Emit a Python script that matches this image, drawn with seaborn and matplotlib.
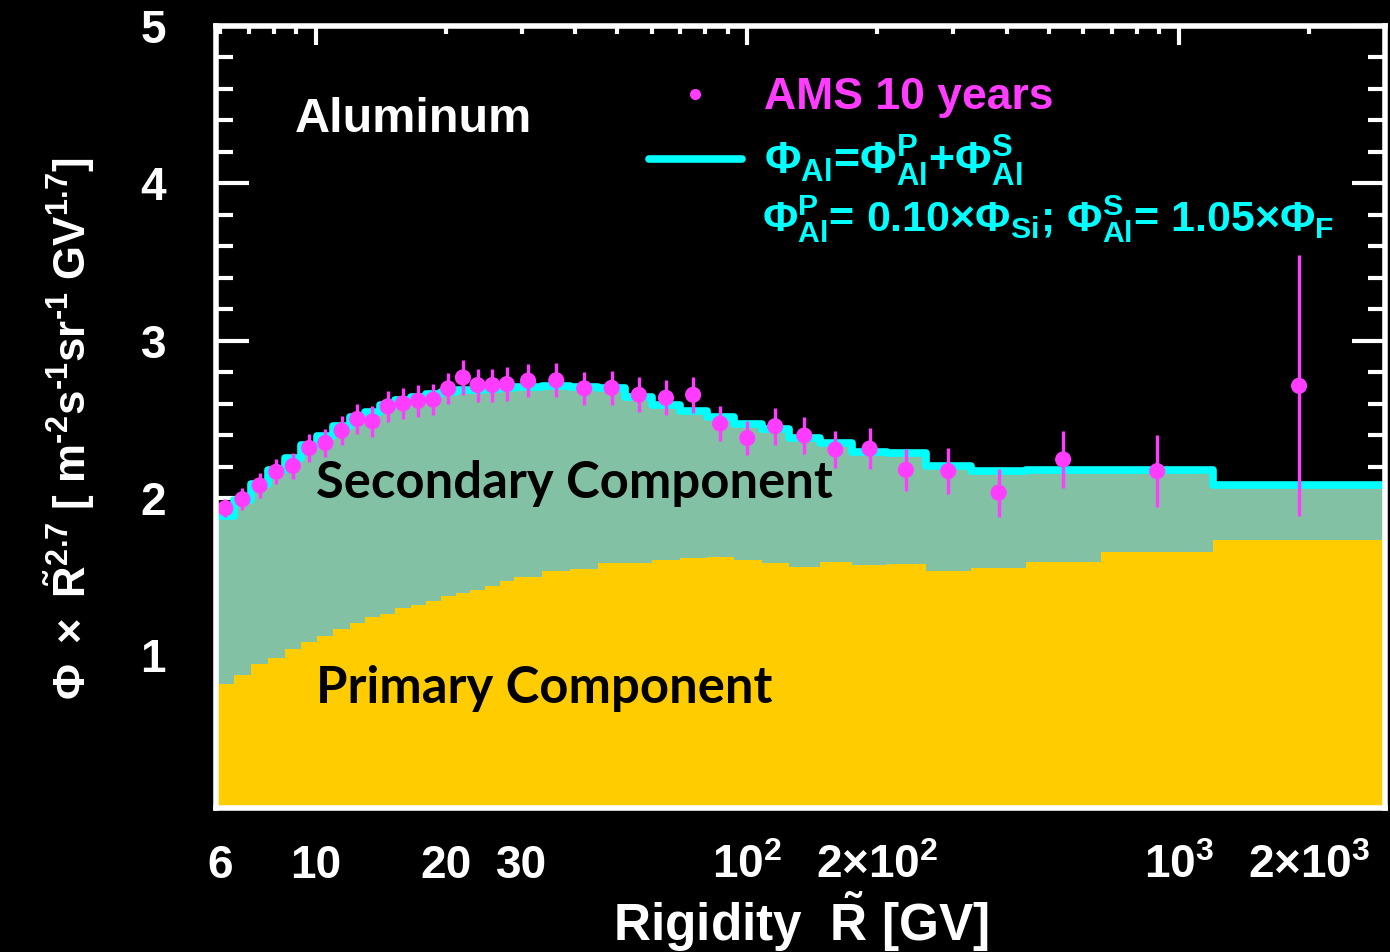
import numpy as np
import matplotlib
matplotlib.use("Agg")
import matplotlib.pyplot as plt
import seaborn as sns
from matplotlib.lines import Line2D
from matplotlib.ticker import FixedLocator, FuncFormatter, LogLocator, MultipleLocator

# Rigidity bin edges [GV]
bin_edges = [5.90, 6.47, 7.09, 7.76, 8.48, 9.26, 10.1, 11.0, 12.0, 13.0,
             14.1, 15.3, 16.6, 18.0, 19.5, 21.1, 22.8, 24.7, 26.7, 28.8,
             33.5, 38.9, 45.1, 52.2, 60.3, 69.7, 80.5, 93.0, 108, 125,
             147, 175, 211, 259, 330, 441, 660, 1200, 3000]

# Model: total Al flux and its primary part (flux x R^2.7)
total_flux = [1.886, 1.99, 2.087, 2.175, 2.255, 2.335, 2.395, 2.46, 2.515, 2.546,
              2.593, 2.62, 2.639, 2.663, 2.673, 2.684, 2.688, 2.693, 2.698, 2.705,
              2.712, 2.703, 2.698, 2.639, 2.59, 2.555, 2.515, 2.472, 2.44, 2.382,
              2.352, 2.292, 2.284, 2.205, 2.172, 2.179, 2.177, 2.08]
primary_flux = [0.82, 0.878, 0.943, 0.983, 1.038, 1.084, 1.125, 1.165, 1.203, 1.241,
                1.264, 1.30, 1.323, 1.348, 1.375, 1.394, 1.418, 1.439, 1.473, 1.496,
                1.533, 1.546, 1.59, 1.589, 1.608, 1.616, 1.623, 1.606, 1.587, 1.563,
                1.593, 1.574, 1.582, 1.534, 1.555, 1.595, 1.658, 1.73]

# AMS measurement
ams_rigidity = [6.18, 6.77, 7.42, 8.11, 8.86, 9.67, 10.54, 11.49, 12.49, 13.54,
                14.69, 15.94, 17.29, 18.74, 20.28, 21.94, 23.73, 25.68, 27.73, 31.06,
                36.1, 41.9, 48.5, 56.1, 64.8, 74.9, 86.5, 100, 116, 135.5,
                160, 192, 233, 292, 382, 539, 890, 1897]
ams_flux = [1.935, 1.992, 2.08, 2.167, 2.204, 2.318, 2.35, 2.428, 2.502, 2.487,
            2.582, 2.601, 2.618, 2.625, 2.696, 2.766, 2.718, 2.718, 2.724, 2.746,
            2.748, 2.697, 2.70, 2.656, 2.637, 2.656, 2.473, 2.381, 2.456, 2.397,
            2.308, 2.314, 2.179, 2.171, 2.034, 2.245, 2.171, 2.713]
ams_error = [0.058, 0.07, 0.078, 0.08, 0.082, 0.088, 0.087, 0.092, 0.095, 0.098,
             0.099, 0.10, 0.10, 0.10, 0.10, 0.11, 0.105, 0.105, 0.107, 0.107,
             0.107, 0.105, 0.108, 0.11, 0.11, 0.113, 0.11, 0.11, 0.117, 0.12,
             0.12, 0.13, 0.135, 0.145, 0.153, 0.18, 0.23, 0.83]

xtick_values = [6, 10, 20, 30, 100, 200, 1000, 2000]
xtick_labels = ["6", "10", "20", "30", r"$10^{2}$", r"$2{\times}10^{2}$",
                r"$10^{3}$", r"$2{\times}10^{3}$"]
ytick_values = [1, 2, 3, 4, 5]

GOLD = "#ffcc00"
GREEN = "#83c1a5"
CYAN = "#00ffff"
MAGENTA = "#ff3cff"

sns.set_style("ticks")
plt.rcParams.update({
    "font.family": ["Liberation Sans", "DejaVu Sans"],
    "font.weight": "bold",
    "mathtext.fontset": "custom",
    "mathtext.rm": "Liberation Sans:bold",
    "mathtext.it": "Liberation Sans:bold",
    "mathtext.bf": "Liberation Sans:bold",
    "mathtext.sf": "Liberation Sans",
    "figure.facecolor": "black",
    "axes.facecolor": "black",
    "savefig.facecolor": "black",
})

fig = plt.figure(figsize=(13.9, 9.52), dpi=100)
ax = fig.add_axes([0.1554, 0.1513, 0.841, 0.8214])

edges = np.asarray(bin_edges)
prim_steps = np.append(primary_flux, primary_flux[-1])
tot_steps = np.append(total_flux, total_flux[-1])

# Primary and secondary components as stacked step areas
ax.fill_between(edges, 0, prim_steps, step="post", color=GOLD, lw=0, zorder=1)
ax.fill_between(edges, prim_steps, tot_steps, step="post", color=GREEN, lw=0, zorder=1)

# Total model flux
sns.lineplot(x=edges, y=tot_steps, drawstyle="steps-post", color=CYAN, lw=5.5,
             sort=False, estimator=None, ax=ax, zorder=3)

# AMS data points
ax.errorbar(ams_rigidity, ams_flux, yerr=ams_error, fmt="none", ecolor=MAGENTA,
            elinewidth=2.4, zorder=4)
sns.scatterplot(x=ams_rigidity, y=ams_flux, color=MAGENTA, s=135, edgecolor="none",
                ax=ax, zorder=5)

ax.set_xscale("log")
ax.set_xlim(5.88, 3000)
ax.set_ylim(0.03, 5.0)

# Axis ticks
label_map = dict(zip(xtick_values, xtick_labels))


def rigidity_label(v, pos):
    for k, lab in label_map.items():
        if abs(v - k) / k < 1e-6:
            return lab
    return ""


ax.xaxis.set_major_locator(FixedLocator([10, 100, 1000]))
ax.xaxis.set_minor_locator(LogLocator(base=10, subs=np.arange(2, 10)))
ax.xaxis.set_major_formatter(FuncFormatter(rigidity_label))
ax.xaxis.set_minor_formatter(FuncFormatter(rigidity_label))
ax.yaxis.set_major_locator(FixedLocator(ytick_values))
ax.yaxis.set_minor_locator(MultipleLocator(0.2))
ax.set_yticklabels([str(v) for v in ytick_values])

for side in ax.spines.values():
    side.set_color("white")
    side.set_linewidth(4)
    side.set_zorder(6)

ax.tick_params(axis="both", which="both", direction="in", colors="white",
               top=True, right=True, width=3)
ax.tick_params(axis="x", which="major", length=14, pad=26, labelsize=33)
ax.tick_params(axis="x", which="minor", length=6, pad=26, labelsize=33)
ax.tick_params(axis="y", which="major", length=24, pad=36, labelsize=33)
ax.tick_params(axis="y", which="minor", length=12)
for lab in ax.get_xticklabels(which="both") + ax.get_yticklabels():
    lab.set_fontweight("bold")

# Axis titles
fig.text(0.576, 0.012, r"Rigidity  $\tilde{R}$ [GV]", color="white", fontsize=37,
         fontweight="bold", ha="center", va="baseline")
fig.text(0.05, 0.55,
         r"$\mathsf{\Phi\ \times}\ \tilde{R}^{2.7}$ [ m$^{\text{-}2}$s$^{\text{-}1}$sr$^{\text{-}1}$ GV$^{1.7}$]",
         color="white", fontsize=31.5, fontweight="bold", rotation=90,
         ha="center", va="center")

# Annotations inside the frame
ax.text(0.0676, 0.864, "Aluminum", transform=ax.transAxes, color="white",
        fontsize=35, fontweight="bold", va="baseline")
ax.text(0.0855, 0.396, "Secondary Component", transform=ax.transAxes, color="black",
        fontsize=36.5, fontweight="bold", family="Lato", va="baseline")
ax.text(0.0855, 0.134, "Primary Component", transform=ax.transAxes, color="black",
        fontsize=36.5, fontweight="bold", family="Lato", va="baseline")

handles = [
    Line2D([], [], ls="none", marker="o", ms=8, color=MAGENTA, mec="none"),
    Line2D([], [], color=CYAN, lw=5.5),
]
labels = ["AMS 10 years",
          r"$\Phi_{Al}$=$\Phi^{P}_{Al}$+$\Phi^{S}_{Al}$"]
leg = ax.legend(handles, labels, loc="upper left", bbox_to_anchor=(0.355, 0.957),
                frameon=False, fontsize=32, handlelength=2.1, handletextpad=0.5,
                labelspacing=0.35, borderaxespad=0)
leg.get_texts()[0].set_color(MAGENTA)
leg.get_texts()[1].set_color(CYAN)
for t in leg.get_texts():
    t.set_fontweight("bold")

ax.text(0.467, 0.737,
        r"$\Phi^{P}_{Al}$= 0.10$\times\Phi_{Si}$; $\Phi^{S}_{Al}$= 1.05$\times\Phi_{F}$",
        transform=ax.transAxes, color=CYAN, fontsize=31, fontweight="bold",
        va="baseline")

fig.savefig("out.png", dpi=100)
